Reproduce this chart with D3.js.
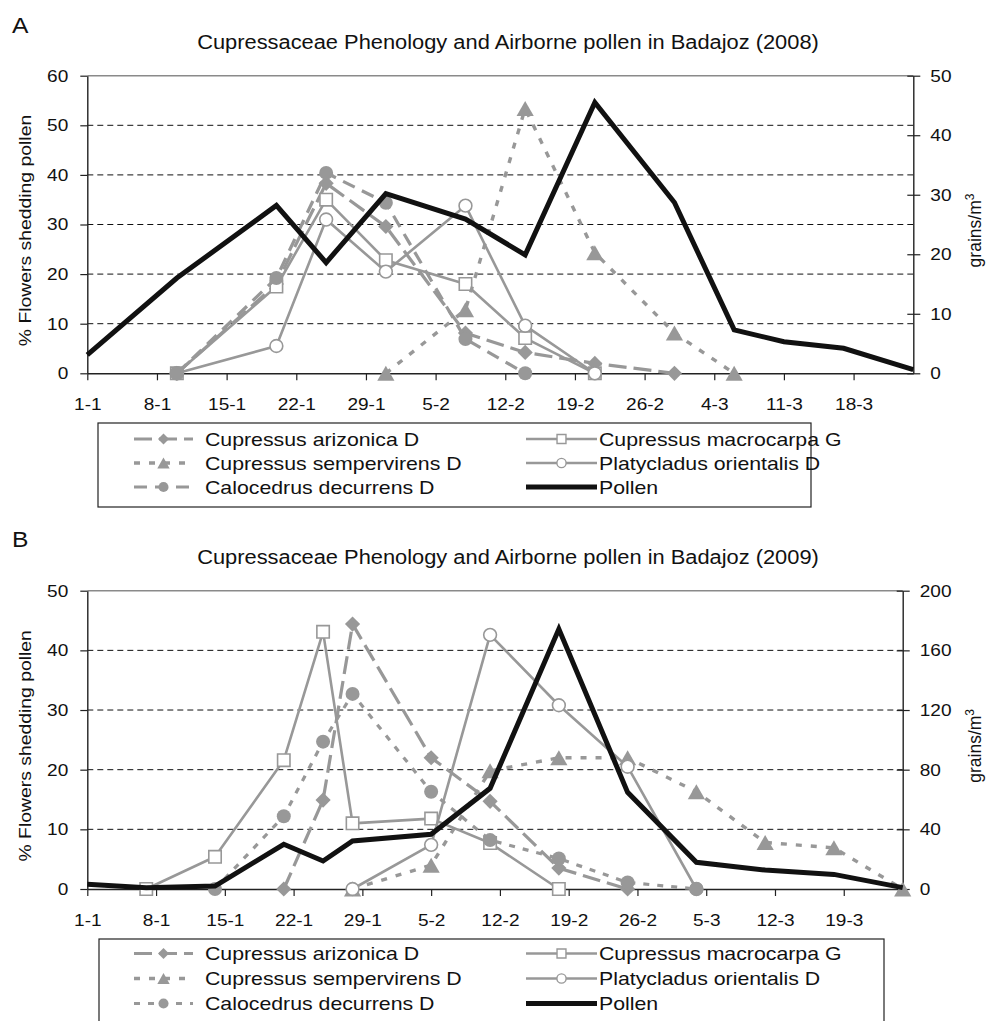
<!DOCTYPE html>
<html>
<head>
<meta charset="utf-8">
<script src="https://cdn.jsdelivr.net/npm/d3@7"></script>
<style>
  html, body { margin: 0; padding: 0; background: #fff; }
  svg { display: block; font-family: "Liberation Sans", Arial, Helvetica, sans-serif; }
</style>
</head>
<body>
<svg id="fig" width="997" height="1021"></svg>
<script>
// ---------- 2008 season (panel A) ----------
// sampling dates as day offsets from 1 January
const daysA         = [0, 9, 19, 24, 30, 38, 44, 51, 59, 65, 70, 76, 83];
const pollenA       = [3.1, 16.0, 28.2, 18.6, 30.2, 25.9, 19.9, 45.5, 28.7, 7.3, 5.3, 4.2, 0.6];
const arizonicaA    = [null, 0, 18.0, 38.3, 29.6, 8.1, 4.2, 2.0, 0, null, null, null, null];
const macrocarpaA   = [null, 0, 17.5, 35.0, 22.8, 18.0, 7.1, 0, null, null, null, null, null];
const sempervirensA = [null, null, null, null, 0, 12.8, 53.4, 24.3, 8.1, 0, null, null, null];
const platycladusA  = [null, 0, 5.5, 31.0, 20.5, 33.8, 9.6, 0, null, null, null, null, null];
const calocedrusA   = [null, 0, 19.2, 40.4, 34.4, 6.9, 0, null, null, null, null, null, null];
const tickDaysA     = [0, 7, 14, 21, 28, 35, 42, 49, 56, 63, 70, 77];
const tickLabelsA   = ["1-1", "8-1", "15-1", "22-1", "29-1", "5-2", "12-2", "19-2", "26-2", "4-3", "11-3", "18-3"];

// ---------- 2009 season (panel B) ----------
const daysB         = [0, 6, 13, 20, 24, 27, 35, 41, 48, 55, 62, 69, 76, 83];
const pollenB       = [3.2, 0.9, 2.0, 30.0, 18.8, 32.2, 36.7, 67.5, 174.3, 64.8, 17.9, 12.7, 9.8, 0.9];
const arizonicaB    = [null, null, null, 0, 14.9, 44.4, 22.0, 14.7, 3.5, 0, null, null, null, null];
const macrocarpaB   = [null, 0, 5.4, 21.6, 43.1, 11.0, 11.8, 7.7, 0, null, null, null, null, null];
const sempervirensB = [null, null, null, null, null, 0, 4.0, 19.8, 22.0, 22.0, 16.3, 7.8, 6.9, 0];
const platycladusB  = [null, null, null, null, null, 0, 7.4, 42.6, 30.8, 20.5, 0, null, null, null];
const calocedrusB   = [null, null, 0, 12.2, 24.7, 32.7, 16.3, 8.2, 5.1, 1.1, 0, null, null, null];
const tickDaysB     = [0, 7, 14, 21, 28, 35, 42, 49, 56, 63, 70, 77];
const tickLabelsB   = ["1-1", "8-1", "15-1", "22-1", "29-1", "5-2", "12-2", "19-2", "26-2", "5-3", "12-3", "19-3"];

const GRAY = "#989898";
const K = 1.12;   // horizontal widening applied to all labels

const svg = d3.select("#fig");
svg.append("rect").attr("width", 997).attr("height", 1021).attr("fill", "#fff");

function widen(sel) {
  sel.each(function () {
    const w = this.getComputedTextLength();
    if (w > 0) {
      this.setAttribute("textLength", (w * K).toFixed(2));
      this.setAttribute("lengthAdjust", "spacingAndGlyphs");
    }
  });
}

function markerPath(type, s) {
  if (type === "diamond") { const r = 7.6 * s; return `M0,${-r}L${r},0L0,${r}L${-r},0Z`; }
  if (type === "triangle") { const w = 8.6 * s, h = 15 * s; return `M0,${-h / 2}L${w},${h / 2}L${-w},${h / 2}Z`; }
  if (type === "square") { const r = 6.2 * s; return `M${-r},${-r}H${r}V${r}H${-r}Z`; }
  const r = (type === "dot" ? 7 : 6.4) * s;
  return `M${r},0A${r},${r} 0 1,1 ${-r},0A${r},${r} 0 1,1 ${r},0Z`;
}

function seriesStyles(calDash) {
  return {
    arizonica:    { name: "Cupressus arizonica D",     color: GRAY, width: 3.2, dash: "18,7", marker: "diamond",  open: false },
    macrocarpa:   { name: "Cupressus macrocarpa G",    color: GRAY, width: 2.6, dash: null,   marker: "square",   open: true },
    sempervirens: { name: "Cupressus sempervirens D",  color: GRAY, width: 3.4, dash: "6,9",  marker: "triangle", open: false },
    platycladus:  { name: "Platycladus orientalis D",  color: GRAY, width: 2.6, dash: null,   marker: "circle",   open: true },
    calocedrus:   { name: "Calocedrus decurrens D",    color: GRAY, width: 3.2, dash: calDash, marker: "dot",     open: false },
    pollen:       { name: "Pollen",                    color: "#111", width: 5, dash: null,   marker: null,       open: false }
  };
}

const panels = [
  {
    letter: "A", letterY: 33,
    title: "Cupressaceae Phenology and Airborne pollen in Badajoz (2008)", titleY: 49,
    days: daysA, ticks: tickDaysA, tickLabels: tickLabelsA,
    species: { arizonica: arizonicaA, macrocarpa: macrocarpaA, sempervirens: sempervirensA, platycladus: platycladusA, calocedrus: calocedrusA },
    pollen: pollenA,
    leftMax: 60, leftStep: 10, rightMax: 50, rightStep: 10,
    x0: 87.3, x1: 913.3, y0: 75.7, y1: 373.3,
    styles: seriesStyles("13,8"),
    legend: { x0: 98, x1: 811, y0: 423, y1: 507, rows: [439, 463, 487] }
  },
  {
    letter: "B", letterY: 547,
    title: "Cupressaceae Phenology and Airborne pollen in Badajoz (2009)", titleY: 564,
    days: daysB, ticks: tickDaysB, tickLabels: tickLabelsB,
    species: { arizonica: arizonicaB, macrocarpa: macrocarpaB, sempervirens: sempervirensB, platycladus: platycladusB, calocedrus: calocedrusB },
    pollen: pollenB,
    leftMax: 50, leftStep: 10, rightMax: 200, rightStep: 40,
    x0: 87.3, x1: 902.7, y0: 590.7, y1: 889,
    styles: seriesStyles("6,8"),
    legend: { x0: 99, x1: 884, y0: 939, y1: 1024, rows: [953.5, 978.5, 1003.5] }
  }
];

panels.forEach(p => {
  const g = svg.append("g");
  const x = d3.scaleLinear().domain([0, 83]).range([p.x0, p.x1]);
  const yL = d3.scaleLinear().domain([0, p.leftMax]).range([p.y1, p.y0]);
  const yR = d3.scaleLinear().domain([0, p.rightMax]).range([p.y1, p.y0]);
  const leftTicks = d3.range(0, p.leftMax + 1, p.leftStep);
  const rightTicks = d3.range(0, p.rightMax + 1, p.rightStep);

  // panel letter and title
  g.append("text").attr("x", 12).attr("y", p.letterY).attr("font-size", 22).attr("fill", "#111").text(p.letter).call(widen);
  g.append("text").attr("x", 508).attr("y", p.titleY).attr("text-anchor", "middle")
    .attr("font-size", 19.5).attr("fill", "#111").text(p.title).call(widen);

  // horizontal gridlines
  g.append("g").selectAll("line")
    .data(leftTicks.filter(v => v > 0 && v < p.leftMax))
    .join("line")
    .attr("x1", p.x0).attr("x2", p.x1)
    .attr("y1", d => yL(d)).attr("y2", d => yL(d))
    .attr("stroke", "#111").attr("stroke-width", 1).attr("stroke-dasharray", "6,4");
  // top border of the plot area
  g.append("line").attr("x1", p.x0).attr("x2", p.x1).attr("y1", yL(p.leftMax)).attr("y2", yL(p.leftMax))
    .attr("stroke", "#8a8a8a").attr("stroke-width", 1.5);

  // axes
  const axL = g.append("g").attr("transform", `translate(${p.x0},0)`)
    .call(d3.axisLeft(yL).tickValues(leftTicks).tickSize(7).tickSizeOuter(0).tickPadding(12));
  const axR = g.append("g").attr("transform", `translate(${p.x1},0)`)
    .call(d3.axisRight(yR).tickValues(rightTicks).tickSize(7).tickSizeOuter(0).tickPadding(10));
  axR.selectAll(".tick line").attr("x1", -6);
  const axB = g.append("g").attr("transform", `translate(0,${p.y1})`)
    .call(d3.axisBottom(x).tickValues(p.ticks).tickFormat((d, i) => p.tickLabels[i]).tickSize(7).tickSizeOuter(0).tickPadding(18));
  [axL, axR, axB].forEach(a => {
    a.select(".domain").attr("stroke", "#222").attr("stroke-width", 1.4);
    a.selectAll(".tick line").attr("stroke", "#222").attr("stroke-width", 1.2);
    a.selectAll(".tick text").attr("font-size", 17).attr("fill", "#111").attr("font-family", "Liberation Sans, Arial, sans-serif").call(widen);
  });

  // axis titles
  const cy = (p.y0 + p.y1) / 2 + 6;
  g.append("text").attr("transform", `translate(31,${cy}) rotate(-90)`).attr("text-anchor", "middle")
    .attr("font-size", 17.3).attr("fill", "#111").text("% Flowers shedding pollen").call(widen);
  const rt = g.append("text").attr("transform", `translate(981,${cy}) rotate(-90)`).attr("text-anchor", "middle")
    .attr("font-size", 17.5).attr("fill", "#111");
  rt.append("tspan").text("grains/m");
  rt.append("tspan").attr("font-size", 12).attr("dy", -7).text("3");

  // series
  const order = ["arizonica", "macrocarpa", "sempervirens", "platycladus", "calocedrus"];
  order.forEach(key => {
    const st = p.styles[key];
    const pts = p.days.map((d, i) => ({ d, v: p.species[key][i] }));
    const line = d3.line().defined(o => o.v != null).x(o => x(o.d)).y(o => yL(o.v));
    g.append("path").datum(pts).attr("d", line).attr("fill", "none")
      .attr("stroke", st.color).attr("stroke-width", st.width)
      .attr("stroke-dasharray", st.dash).attr("stroke-linejoin", "round");
    g.append("g").selectAll("path").data(pts.filter(o => o.v != null)).join("path")
      .attr("transform", o => `translate(${x(o.d)},${yL(o.v)})`)
      .attr("d", markerPath(st.marker, 1))
      .attr("fill", st.open ? "#fff" : st.color)
      .attr("stroke", st.color).attr("stroke-width", st.open ? 1.6 : 0);
  });
  const pst = p.styles.pollen;
  const pPts = p.days.map((d, i) => ({ d, v: p.pollen[i] }));
  g.append("path").datum(pPts)
    .attr("d", d3.line().x(o => x(o.d)).y(o => yR(o.v)))
    .attr("fill", "none").attr("stroke", pst.color).attr("stroke-width", pst.width).attr("stroke-linejoin", "miter");

  // legend
  const L = p.legend;
  const lg = g.append("g");
  lg.append("rect").attr("x", L.x0).attr("y", L.y0).attr("width", L.x1 - L.x0).attr("height", L.y1 - L.y0)
    .attr("fill", "#fff").attr("stroke", "#222").attr("stroke-width", 1.2);
  const cols = [
    { keys: ["arizonica", "sempervirens", "calocedrus"], lx0: 134, lx1: 193, tx: 205 },
    { keys: ["macrocarpa", "platycladus", "pollen"], lx0: 526, lx1: 597, tx: 599 }
  ];
  cols.forEach(c => {
    c.keys.forEach((key, r) => {
      const st = p.styles[key];
      const yy = L.rows[r];
      lg.append("line").attr("x1", c.lx0).attr("x2", c.lx1).attr("y1", yy).attr("y2", yy)
        .attr("stroke", st.color).attr("stroke-width", key === "pollen" ? 5 : st.width)
        .attr("stroke-dasharray", st.dash);
      if (st.marker) {
        lg.append("path").attr("transform", `translate(${(c.lx0 + c.lx1) / 2},${yy})`)
          .attr("d", markerPath(st.marker, 0.72))
          .attr("fill", st.open ? "#fff" : st.color)
          .attr("stroke", st.color).attr("stroke-width", st.open ? 1.4 : 0);
      }
      lg.append("text").attr("x", c.tx).attr("y", yy).attr("dy", "0.36em")
        .attr("font-size", 19).attr("fill", "#111").text(st.name).call(widen);
    });
  });
});
</script>
</body>
</html>
